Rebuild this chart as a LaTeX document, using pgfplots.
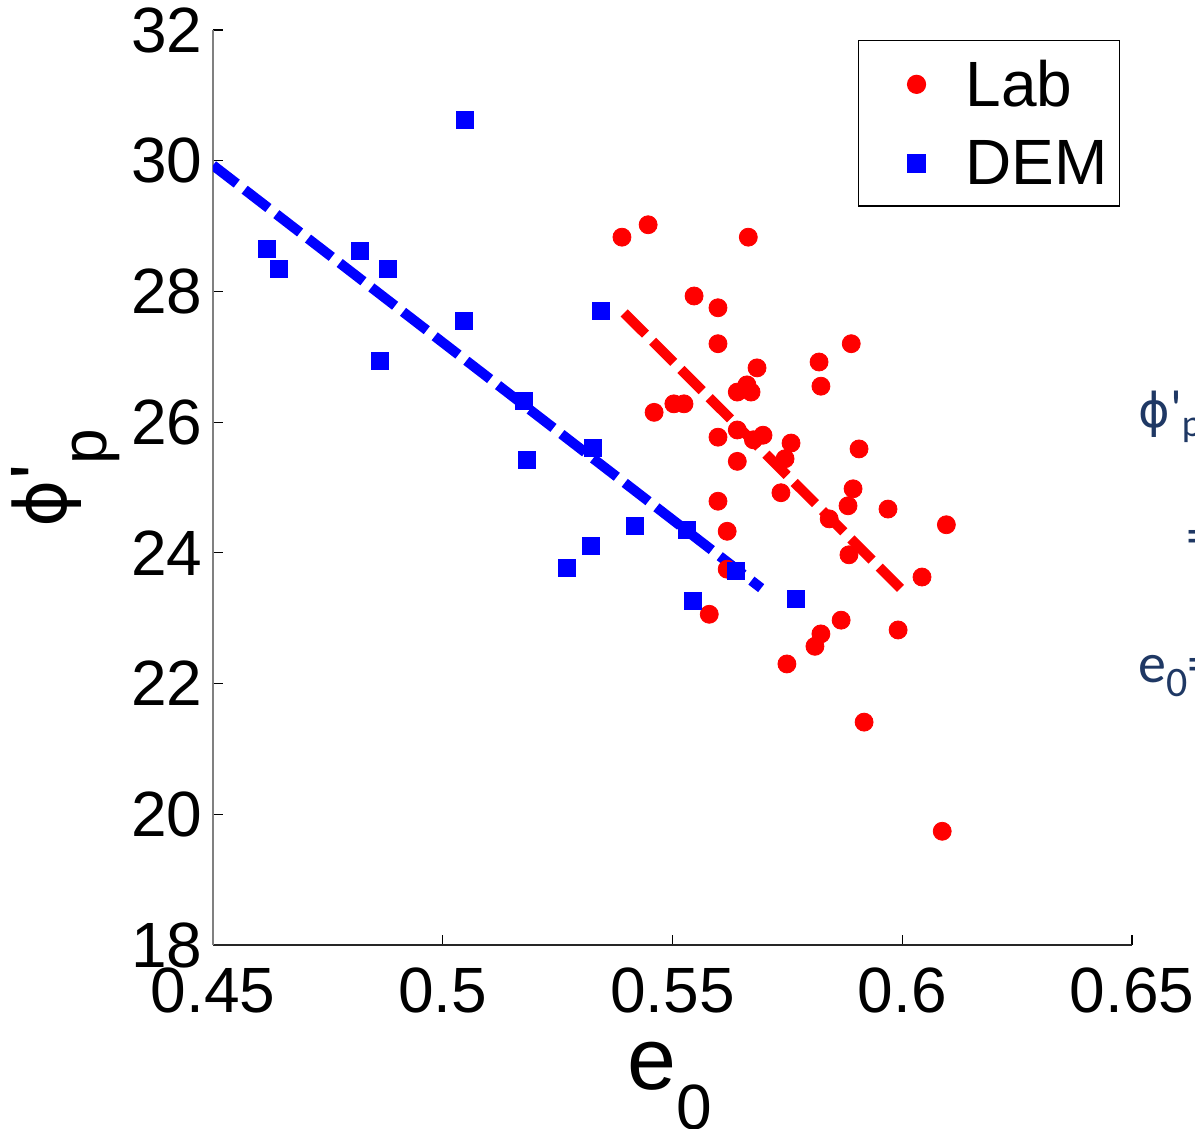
\documentclass[border=0pt]{standalone}
\usepackage{fontspec}
\setmainfont{Liberation Sans}
\newfontfamily\carl{Carlito}
\newfontfamily\dejavu{DejaVu Sans}
\usepackage{pgfplots}
\pgfplotsset{compat=1.18}
\definecolor{navy}{RGB}{31,56,100}
\begin{document}
\begin{tikzpicture}
\begin{axis}[
 scale only axis, width=459.5pt, height=457.5pt,
 xmin=0.45,xmax=0.65,ymin=18,ymax=32,
 axis x line*=bottom, axis y line*=left,
 x axis line style={black!85, line width=0.8pt},
 y axis line style={gray, line width=0.8pt},
 xtick={0.45,0.5,0.55,0.6,0.65},
 xticklabels={0.45,0.5,0.55,0.6,0.65},
 ytick={18,20,22,24,26,28,30,32},
 tick align=inside, major tick length=5pt,
 tick style={black, line width=0.6pt},
 tick label style={font=\fontsize{32}{38}\selectfont, inner sep=0pt},
 xticklabel style={yshift=-11pt},
 yticklabel style={xshift=-5pt},
 /pgf/number format/assume math mode=true,
 legend style={at={(rel axis cs:0.7018,0.989)}, anchor=north west, draw=black, line width=0.6pt,
   font=\fontsize{32}{38}\selectfont, inner xsep=6pt, inner ysep=9.5pt, row sep=15.5pt, column sep=20pt,
   nodes={inner sep=0pt}},
 legend cell align=left,
 legend image code/.code={\path[draw=none,fill=none] (-23pt,0pt) -- (4.5pt,0pt); \draw[#1] plot coordinates {(0pt,0pt)};},
]
\coordinate (O) at (rel axis cs:0,0);
\addplot[only marks, mark=*, mark size=4.5pt, color=red, mark options={draw=red, fill=red}] coordinates {
(0.5390,28.83) (0.5447,29.02) (0.5665,28.83) (0.5547,27.93) (0.5599,27.75) (0.5599,27.20)
(0.5889,27.20) (0.5819,26.92) (0.5823,26.55) (0.5684,26.83) (0.5641,26.46) (0.5662,26.57)
(0.5671,26.46) (0.5460,26.15) (0.5503,26.28) (0.5525,26.28) (0.5599,25.77) (0.5641,25.88)
(0.5697,25.80) (0.5676,25.73) (0.5758,25.68) (0.5745,25.44) (0.5641,25.40) (0.5906,25.59)
(0.5599,24.79) (0.5619,24.33) (0.5619,23.75) (0.5580,23.06) (0.5736,24.92) (0.5893,24.98)
(0.5882,24.72) (0.5841,24.52) (0.5969,24.67) (0.6096,24.43) (0.5884,23.97) (0.6043,23.63)
(0.5867,22.97) (0.5823,22.76) (0.5810,22.57) (0.5749,22.30) (0.5991,22.82) (0.5917,21.41)
(0.6087,19.74)};
\addlegendentry{Lab}
\addplot[only marks, mark=square*, mark size=4.25pt, color=blue, mark options={draw=blue, fill=blue}] coordinates {
(0.4618,28.65) (0.4644,28.34) (0.4820,28.62) (0.4881,28.34) (0.4864,26.94) (0.5049,30.62)
(0.5046,27.55) (0.5345,27.70) (0.5177,26.32) (0.5184,25.42) (0.5327,25.60) (0.5419,24.41)
(0.5323,24.10) (0.5271,23.77) (0.5532,24.35) (0.5545,23.26) (0.5638,23.72) (0.5769,23.29)};
\addlegendentry{DEM}
\addplot[red, line width=5pt, dash pattern=on 15pt off 5pt, forget plot] coordinates {(0.5395,27.67) (0.6,23.43)};
\addplot[blue, line width=5pt, dash pattern=on 15pt off 5pt, forget plot] coordinates {(0.45,29.93) (0.5693,23.46)};
\end{axis}
\node[anchor=base, inner sep=0pt, font=\fontsize{44}{48}\selectfont] at ([shift={(228.5pt,-72.5pt)}]O) {e\raisebox{-20pt}{\fontsize{32}{32}\selectfont 0}};
\node[rotate=90, anchor=base, inner sep=0pt, font=\fontsize{40}{44}\selectfont] at ([shift={(-73pt,233.5pt)}]O) {{\dejavu\fontsize{36}{40}\selectfont ϕ}\textquotesingle\raisebox{-20pt}{\fontsize{32}{32}\selectfont p}};
\node[anchor=base west, inner sep=0pt, text=navy, font=\carl\fontsize{27}{30}\selectfont] at ([shift={(462.5pt,258.5pt)}]O) {{\dejavu\fontsize{24}{28}\selectfont ϕ}\textquotesingle\raisebox{-4.5pt}{\fontsize{19}{20}\selectfont p}};
\node[anchor=west, inner sep=0pt, text=navy, font=\carl\fontsize{28}{30}\selectfont] at ([shift={(486.5pt,201.5pt)}]O) {=};
\node[anchor=base west, inner sep=0pt, text=navy, font=\carl\fontsize{28}{30}\selectfont] at ([shift={(462.5pt,131pt)}]O) {e\raisebox{-7pt}{\fontsize{21}{22}\selectfont 0}=};
\pgfresetboundingbox
\path[use as bounding box] ([shift={(-106.5pt,-92pt)}]O) rectangle ([shift={(491pt,472.5pt)}]O);
\end{tikzpicture}
\end{document}
